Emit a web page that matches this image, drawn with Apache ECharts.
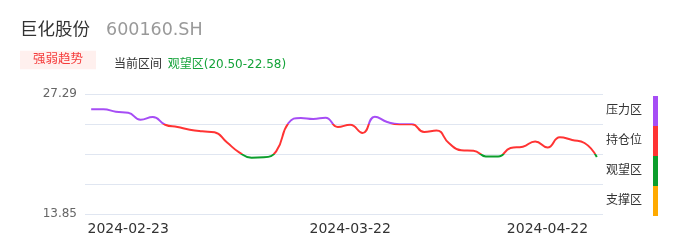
<!DOCTYPE html>
<html><head><meta charset="utf-8">
<script src="https://cdn.jsdelivr.net/npm/echarts@6/dist/echarts.min.js"></script>
<style>html,body{margin:0;padding:0;background:#fff}#c{width:686px;height:247px}</style>
</head><body><div id="c"></div>
<script>
const dates = ['2024-02-20','2024-02-21','2024-02-22','2024-02-23','2024-02-26','2024-02-27','2024-02-28','2024-02-29','2024-03-01','2024-03-04',
  '2024-03-05','2024-03-06','2024-03-07','2024-03-08','2024-03-11','2024-03-12','2024-03-13','2024-03-14','2024-03-15','2024-03-18',
  '2024-03-21','2024-03-22','2024-03-25','2024-03-26','2024-03-27','2024-03-28','2024-03-29','2024-04-01','2024-04-02','2024-04-03',
  '2024-04-08','2024-04-09','2024-04-10','2024-04-11','2024-04-12','2024-04-16','2024-04-18','2024-04-22','2024-04-23','2024-04-24',
  '2024-04-25','2024-04-26'];
const prices = [25.58,25.58,25.30,25.20,24.40,24.71,23.85,23.59,23.29,23.11,
  23.00,21.88,20.76,20.16,20.20,20.87,24.04,24.60,24.49,24.64,
  23.59,23.85,22.92,24.75,24.15,23.90,23.90,23.03,23.20,21.80,
  20.98,20.94,20.30,20.28,21.24,21.39,21.97,21.30,22.44,22.14,
  21.80,20.23];
const xLabels = ['2024-02-23','2024-03-22','2024-04-22'];
const zoneBounds = [13.85,17.21,20.57,23.93,27.29];
const yLabels = [13.85,27.29];
const zoneNames = ['压力区','持仓位','观望区','支撑区'];
const zoneColors = ['#a64df5','#ff3333','#0c9e2c','#ffaa00'];
const stockName = '巨化股份';
const stockCode = '600160.SH';
const badgeText = '强弱趋势';
const curLabel = '当前区间';
const curZone = '观望区(20.50-22.58)';

const pieces = zoneNames.map((name, k) => {
  const hi = zoneBounds[4 - k], lo = zoneBounds[3 - k];
  const p = {label: name, color: zoneColors[k]};
  if (k > 0) p.lt = hi;
  if (k < 3) p.gte = lo;
  return p;
});

const chart = echarts.init(document.getElementById('c'), null, {renderer: 'canvas'});
chart.setOption({
  animation: false,
  textStyle: {fontFamily: 'DejaVu Sans, Noto Sans CJK SC, sans-serif'},
  title: [
    {left: 20, top: 19, padding: 0,
     text: '{a|' + stockName + '}{b|' + stockCode + '}',
     textStyle: {fontWeight: 'normal', rich: {
       a: {fontSize: 17.5, color: '#333', fontWeight: 'normal', lineHeight: 22},
       b: {fontSize: 17.5, color: '#999', fontWeight: 'normal', lineHeight: 22, padding: [0,0,0,16]}
     }}},
    {left: 20, top: 53, padding: 0,
     text: '{a|' + badgeText + '}',
     textStyle: {fontWeight: 'normal', rich: {
       a: {fontSize: 12.5, color: '#f53b3b', fontWeight: 'normal', backgroundColor: '#fff0ee', padding: [3,13,3,13], lineHeight: 14}
     }}},
    {left: 114, top: 56, padding: 0,
     text: '{a|' + curLabel + '} {b|' + curZone + '}',
     textStyle: {fontWeight: 'normal', rich: {
       a: {fontSize: 12, color: '#333', fontWeight: 'normal', lineHeight: 14},
       b: {fontSize: 12, color: '#15a33a', fontWeight: 'normal', lineHeight: 14}
     }}}
  ],
  grid: {left: 85, right: 83, top: 94, bottom: 33},
  xAxis: {
    type: 'category', data: dates, boundaryGap: true,
    axisLine: {show: false}, axisTick: {show: false},
    axisLabel: {
      fontSize: 14, color: '#333', margin: 8,
      interval: (idx, val) => xLabels.indexOf(val) >= 0
    }
  },
  yAxis: {
    type: 'value', min: zoneBounds[0], max: zoneBounds[4],
    axisLine: {show: false},
    axisTick: {show: false, customValues: zoneBounds},
    axisLabel: {customValues: yLabels, fontSize: 12, color: '#666', margin: 8,
      formatter: v => v.toFixed(2)},
    splitLine: {show: true, lineStyle: {color: '#e0e6f1'}}
  },
  visualMap: {
    type: 'piecewise', orient: 'vertical', seriesIndex: 0, dimension: 1,
    right: 28, top: 96, itemWidth: 5, itemHeight: 30, itemGap: 0, textGap: 11,
    itemSymbol: 'rect', align: 'right', padding: 0,
    textStyle: {fontSize: 12, color: '#333'},
    pieces: pieces
  },
  series: [{
    type: 'line', data: prices, smooth: true, showSymbol: false,
    lineStyle: {width: 2}
  }]
});
</script></body></html>
